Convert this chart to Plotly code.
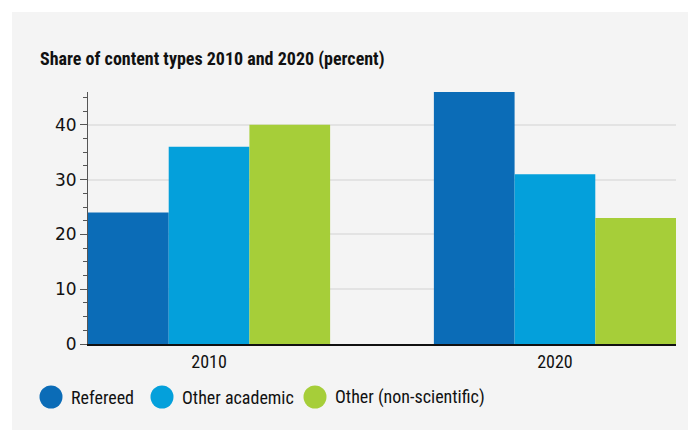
import plotly.graph_objects as go

years = ["2010", "2020"]
series_names = ["Refereed", "Other academic", "Other (non-scientific)"]
refereed = [24, 46]
other_academic = [36, 31]
other_nonsci = [40, 23]
colors = ["#0B6CB7", "#04A0DB", "#A6CE39"]
y_ticks = [0, 10, 20, 30, 40]

# page offset of the default body margin
OFF = 8
PAGE_W, PAGE_H = 696, 431
W, H = PAGE_W - OFF, PAGE_H - OFF
L, R, T, B = 88 - OFF, 20, 92 - OFF, 87
PW, PH = W - L - R, H - T - B


def px(x):
    return (x - OFF - L) / PW


def py(y):
    return (H - B - (y - OFF)) / PH


narrow = "Liberation Sans Narrow, Roboto Condensed, Roboto, sans-serif"

fig = go.Figure()
for name, vals, c in zip(series_names, [refereed, other_academic, other_nonsci], colors):
    fig.add_trace(go.Bar(x=years, y=vals, name=name, marker=dict(color=c, line=dict(width=0)),
                         showlegend=False))

shapes = [dict(type="rect", xref="paper", yref="paper", x0=px(12), x1=px(PAGE_W + 2), y0=py(PAGE_H - 1),
               y1=py(12), fillcolor="#F4F4F4", line=dict(width=0), layer="below")]
annotations = []
leg_cx = [51, 162, 315]
leg_tx = [69, 180, 333]
leg_y = 397
for name, c, cx, tx in zip(series_names, colors, leg_cx, leg_tx):
    shapes.append(dict(type="circle", xref="paper", yref="paper", xsizemode="pixel", ysizemode="pixel",
                       xanchor=px(cx), yanchor=py(leg_y), x0=-11.5, x1=11.5, y0=-11.5, y1=11.5,
                       fillcolor=c, line=dict(width=0)))
    annotations.append(dict(text=name, xref="paper", yref="paper", x=px(tx), y=py(leg_y),
                            xanchor="left", yanchor="middle", showarrow=False,
                            font=dict(family=narrow, size=18, color="#111")))

fig.update_layout(
    width=W, height=H,
    margin=dict(l=L, r=R, t=T, b=B),
    paper_bgcolor="white", plot_bgcolor="#F4F4F4",
    barmode="group", bargap=0.3, bargroupgap=0,
    title=dict(text="<b>Share of content types 2010 and 2020 (percent)</b>", x=(40 - OFF) / W,
               xanchor="left", xref="container", yref="container", y=1 - (59 - OFF) / H,
               yanchor="middle", font=dict(family=narrow, size=18, color="#111")),
    shapes=shapes, annotations=annotations,
    xaxis=dict(type="category", range=[-0.35, 1.35], showline=True, linecolor="#111", linewidth=2,
               ticks="", tickfont=dict(family=narrow, size=18, color="#111"), showgrid=False),
    yaxis=dict(range=[0, 46], tickvals=y_ticks, showline=True, linecolor="#555", linewidth=1,
               ticks="outside", ticklen=7, tickcolor="#555", tickwidth=1,
               tickfont=dict(family="DejaVu Sans", size=17, color="#111"),
               showgrid=True, gridcolor="#E3E3E3", gridwidth=1.5, zeroline=False,
               minor=dict(dtick=2.5, tick0=0, ticks="outside", ticklen=4, tickcolor="#555",
                          showgrid=False)),
)

fig.write_html("out.html")
